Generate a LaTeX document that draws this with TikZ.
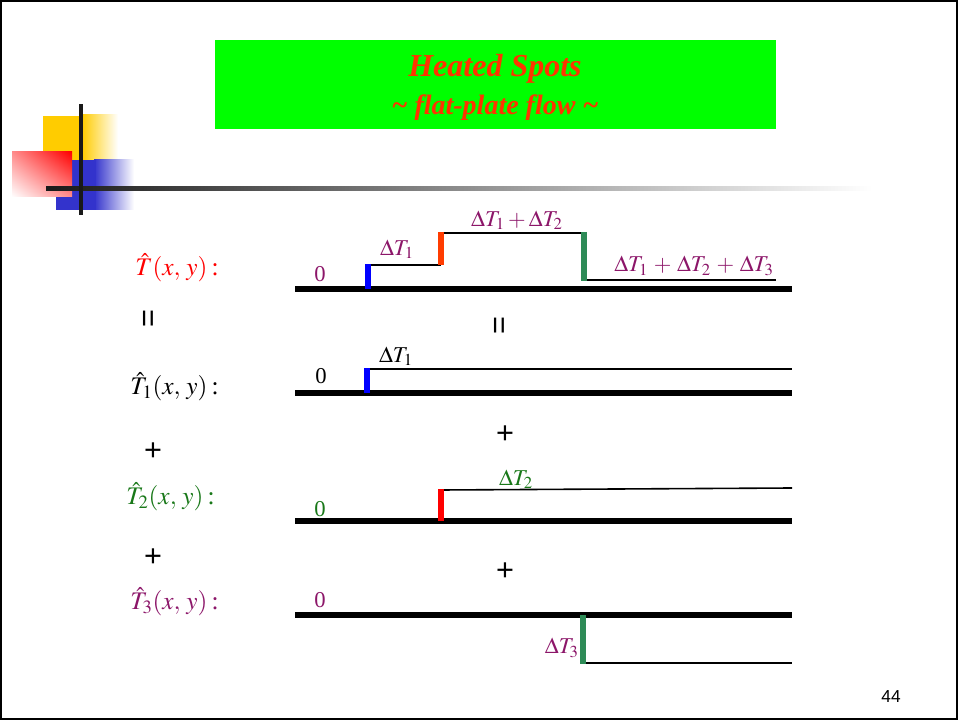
\documentclass[tikz,border=0pt]{standalone}
\usepackage{mathptmx}
\usepackage{fontspec}
\setmainfont{Liberation Serif}
\setsansfont{Liberation Sans}
\usetikzlibrary{shadings}
\definecolor{titlegreen}{RGB}{0,255,0}
\definecolor{titlered}{RGB}{255,51,0}
\definecolor{logoyellow}{RGB}{255,204,0}
\definecolor{logoblue}{RGB}{51,51,204}
\definecolor{purp}{RGB}{140,22,105}
\definecolor{dgreen}{RGB}{25,120,25}
\definecolor{spotblue}{RGB}{0,0,255}
\definecolor{spotorange}{RGB}{255,60,0}
\definecolor{spotred}{RGB}{255,0,0}
\definecolor{spotgreen}{RGB}{46,139,87}

\begin{document}
\begin{tikzpicture}[x=0.75pt, y=-0.75pt,
  plate/.style={line width=3.8pt},
  prof/.style={line width=1.2pt},
  spot/.style={line width=3.8pt},
  lbl/.style={anchor=east, inner sep=0pt, font=\fontsize{19}{22}\selectfont},
  val/.style={inner sep=0pt, font=\fontsize{17}{20}\selectfont},
  op/.style={inner sep=0pt, font=\sffamily\fontsize{23}{25}\selectfont}
]
\useasboundingbox (0,0) rectangle (958,720);
\draw[line width=1.5pt] (1,1) rectangle (957,719);

% logo in the corner
\shade[left color=logoyellow, right color=white] (82,115) rectangle (118,160);
\fill[logoyellow] (43,116) rectangle (83,160);
\shade[left color=logoblue, right color=white] (94,160) rectangle (134,210);
\fill[logoblue] (56,160) rectangle (96,210);
\shade[upper right=red, lower left=white, upper left=red!45!white, lower right=red!45!white] (12,152) rectangle (72,197);
\shade[left color=black!90, right color=white] (46,187) rectangle (872,191);
\fill[black!90] (79,104) rectangle (83,215);

% title
\fill[titlegreen] (215,40) rectangle (776,129);
\node[font=\bfseries\itshape\fontsize{24}{26}\selectfont, text=titlered] (title) at (495,69) {Heated Spots};
\node[font=\bfseries\itshape\fontsize{21}{24}\selectfont, text=titlered] (subtitle) at (495,108) {\textasciitilde{} flat-plate flow \textasciitilde};

\foreach \y in {289,393,521,615}
  \draw[plate] (295,\y) -- (792,\y);

% total
\node[lbl, text=red] (T) at (219,268) {$\hat{T}(x,\, y)$\,:};
\node[val, text=purp] (z0) at (320,274) {0};
\draw[prof] (368,265) -- (441,265);
\draw[prof] (441,233) -- (584,233);
\draw[prof] (584,280) -- (776,280);
\draw[spot, spotblue] (368,289) -- (368,264);
\draw[spot, spotorange] (441,265) -- (441,232);
\draw[spot, spotgreen] (584,232) -- (584,281);
\node[val, text=purp] (d1) at (397,249) {$\Delta T_1$};
\node[val, text=purp] (d12) at (517,220) {$\Delta T_1 + \Delta T_2$};
\node[val, text=purp] (d123) at (694,266) {$\Delta T_1 \,+\, \Delta T_2 \,+\, \Delta T_3$};

\node[op, rotate=90] (eqa) at (151,319) {=};
\node[op, rotate=90] (eqb) at (502,326) {=};

% spot 1
\node[lbl] (T1) at (219,387) {$\hat{T}_1(x,\, y)$\,:};
\node[val] (z1) at (321,376) {0};
\draw[prof] (368,369) -- (792,369);
\draw[spot, spotblue] (367,393) -- (367,368);
\node[val] (e1) at (396,356) {$\Delta T_1$};

\node[op] (pa) at (153,452) {+};
\node[op] (pb) at (505,435) {+};

% spot 2
\node[lbl, text=dgreen] (T2) at (215,497) {$\hat{T}_2(x,\, y)$\,:};
\node[val, text=dgreen] (z2) at (320,509) {0};
\draw[prof] (441,490) -- (792,488);
\draw[spot, spotred] (441,521) -- (441,489);
\node[val, text=dgreen] (e2) at (516,479) {$\Delta T_2$};

\node[op] (pc) at (153,558) {+};
\node[op] (pd) at (505,572) {+};

% spot 3
\node[lbl, text=purp] (T3) at (219,602) {$\hat{T}_3(x,\, y)$\,:};
\node[val, text=purp] (z3) at (320,600) {0};
\draw[prof] (583,663) -- (792,663);
\draw[spot, spotgreen] (583,615) -- (583,664);
\node[val, text=purp, anchor=east] (e3) at (579,648) {$\Delta T_3$};

\node[font=\sffamily\fontsize{13}{15}\selectfont] (pg) at (891,697) {44};
\end{tikzpicture}
\end{document}
